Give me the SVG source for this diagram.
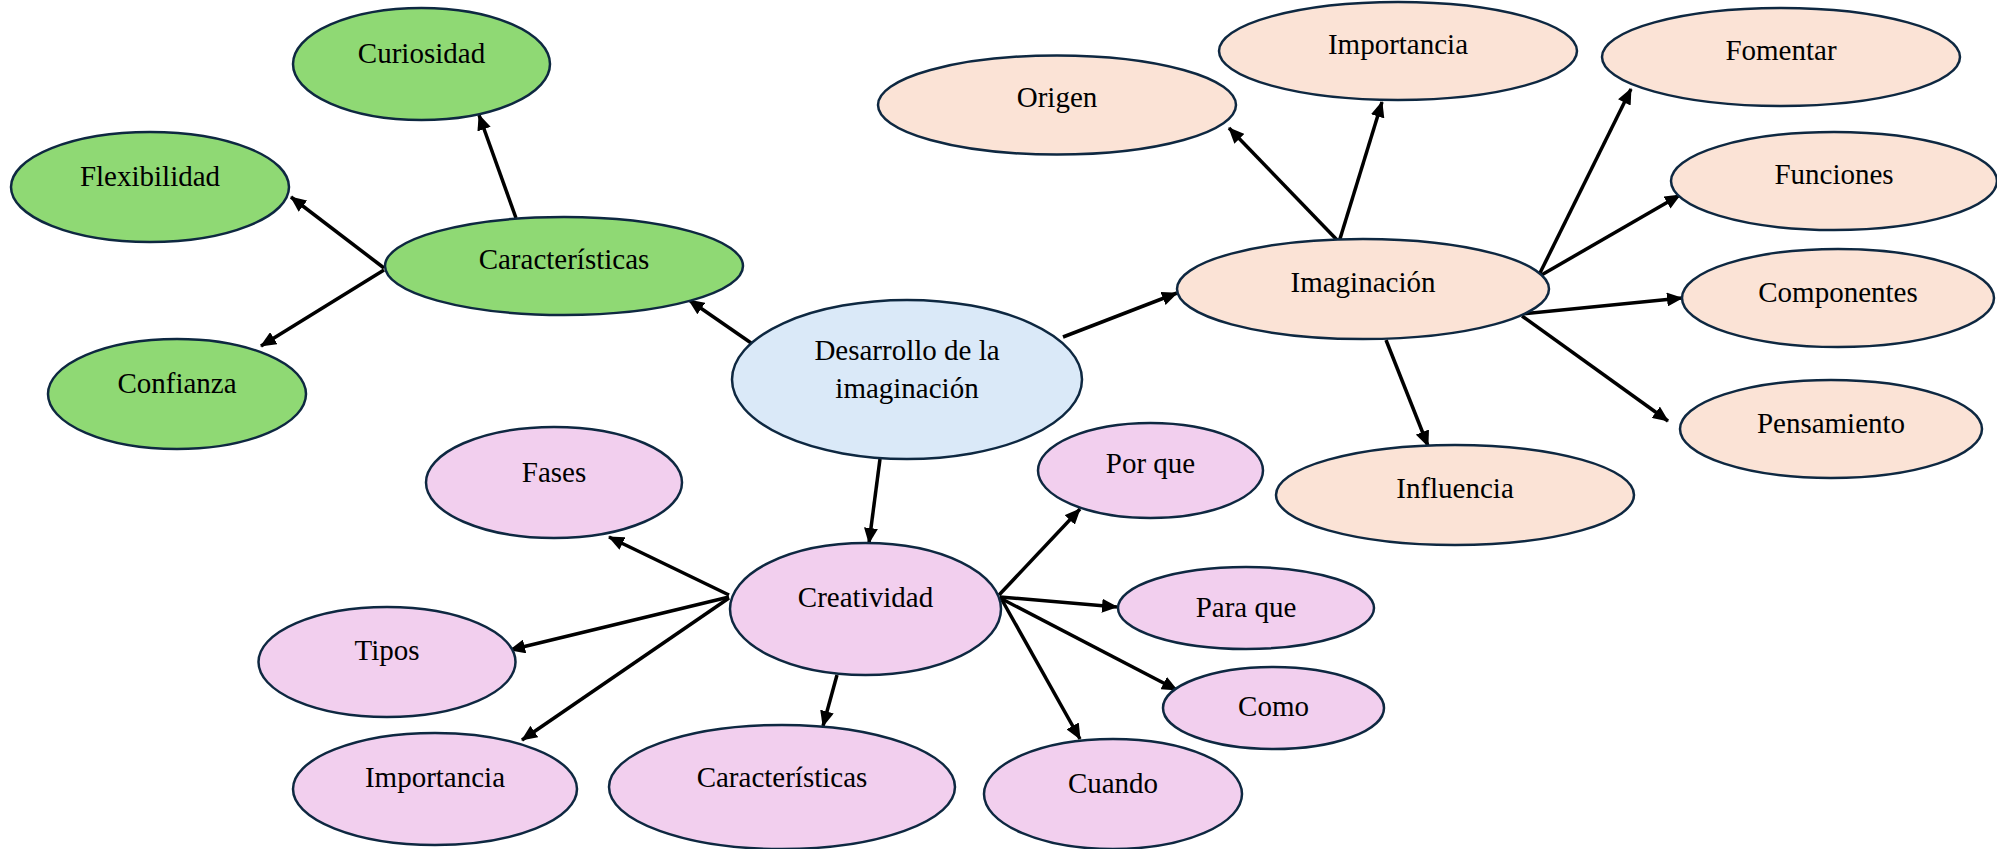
<svg xmlns="http://www.w3.org/2000/svg" width="1997" height="849" viewBox="0 0 1997 849">
<style>
.n{stroke:#0e2841;stroke-width:2.5}
.g{fill:#8fd974}.b{fill:#dae9f8}.p{fill:#fbe3d6}.k{fill:#f2cfee}
text{font-family:"Liberation Serif","Times New Roman",serif;font-size:29px;fill:#000;text-anchor:middle}
.c line{stroke:#000;stroke-width:3.5;marker-end:url(#ah)}
</style>
<defs>
<marker id="ah" markerUnits="userSpaceOnUse" markerWidth="16" markerHeight="14" refX="15" refY="7" orient="auto">
<path d="M0,0 L16,7 L0,14 z" fill="#000"/>
</marker>
</defs>
<rect width="1997" height="849" fill="#fff"/>
<g class="c">
<line x1="754" y1="345" x2="689" y2="300"/>
<line x1="516" y1="218" x2="479" y2="115"/>
<line x1="384" y1="268" x2="291" y2="197"/>
<line x1="384" y1="270" x2="261" y2="346"/>
<line x1="1063" y1="337" x2="1177" y2="293"/>
<line x1="1339" y1="242" x2="1229" y2="128"/>
<line x1="1339" y1="242" x2="1382" y2="102"/>
<line x1="1538" y1="277" x2="1631" y2="89"/>
<line x1="1538" y1="277" x2="1680" y2="195"/>
<line x1="1522" y1="314" x2="1682" y2="298"/>
<line x1="1522" y1="316" x2="1668" y2="421"/>
<line x1="1386" y1="340" x2="1428" y2="446"/>
<line x1="880" y1="459" x2="869" y2="543"/>
<line x1="729" y1="595" x2="609" y2="537"/>
<line x1="729" y1="597" x2="510" y2="650"/>
<line x1="729" y1="598" x2="522" y2="740"/>
<line x1="837" y1="675" x2="823" y2="726"/>
<line x1="999" y1="595" x2="1080" y2="509"/>
<line x1="1000" y1="597" x2="1117" y2="607"/>
<line x1="1000" y1="598" x2="1177" y2="690"/>
<line x1="1002" y1="600" x2="1080" y2="739"/>
</g>
<g id="central"><ellipse class="n b" cx="907" cy="379.5" rx="175" ry="79.5"/><text x="907" y="360">Desarrollo de la</text><text x="907" y="398">imaginación</text></g>
<g id="caracteristicas-g"><ellipse class="n g" cx="564" cy="266" rx="179" ry="49"/><text x="564" y="269">Características</text></g>
<g id="curiosidad"><ellipse class="n g" cx="421.5" cy="64" rx="128.5" ry="56"/><text x="421.5" y="63">Curiosidad</text></g>
<g id="flexibilidad"><ellipse class="n g" cx="150" cy="187" rx="139" ry="55"/><text x="150" y="186">Flexibilidad</text></g>
<g id="confianza"><ellipse class="n g" cx="177" cy="394" rx="129" ry="55"/><text x="177" y="393">Confianza</text></g>
<g id="imaginacion"><ellipse class="n p" cx="1363" cy="289" rx="186" ry="50"/><text x="1363" y="292">Imaginación</text></g>
<g id="origen"><ellipse class="n p" cx="1057" cy="105" rx="179" ry="49.5"/><text x="1057" y="107">Origen</text></g>
<g id="importancia-i"><ellipse class="n p" cx="1398" cy="51" rx="179" ry="49"/><text x="1398" y="54">Importancia</text></g>
<g id="fomentar"><ellipse class="n p" cx="1781" cy="57" rx="179" ry="49"/><text x="1781" y="60">Fomentar</text></g>
<g id="funciones"><ellipse class="n p" cx="1834" cy="181" rx="163" ry="49"/><text x="1834" y="184">Funciones</text></g>
<g id="componentes"><ellipse class="n p" cx="1838" cy="298" rx="156" ry="49"/><text x="1838" y="302">Componentes</text></g>
<g id="pensamiento"><ellipse class="n p" cx="1831" cy="429" rx="151" ry="49"/><text x="1831" y="433">Pensamiento</text></g>
<g id="influencia"><ellipse class="n p" cx="1455" cy="495" rx="179" ry="50"/><text x="1455" y="498">Influencia</text></g>
<g id="creatividad"><ellipse class="n k" cx="865.5" cy="609" rx="135.5" ry="66"/><text x="865.5" y="607">Creatividad</text></g>
<g id="fases"><ellipse class="n k" cx="554" cy="482.5" rx="128" ry="55.5"/><text x="554" y="482">Fases</text></g>
<g id="tipos"><ellipse class="n k" cx="387" cy="662" rx="128.5" ry="55"/><text x="387" y="660">Tipos</text></g>
<g id="importancia-c"><ellipse class="n k" cx="435" cy="789" rx="142" ry="56"/><text x="435" y="787">Importancia</text></g>
<g id="caracteristicas-c"><ellipse class="n k" cx="782" cy="787" rx="173" ry="62"/><text x="782" y="787">Características</text></g>
<g id="porque"><ellipse class="n k" cx="1150.5" cy="470.5" rx="112.5" ry="47.5"/><text x="1150.5" y="473">Por que</text></g>
<g id="paraque"><ellipse class="n k" cx="1246" cy="608" rx="128" ry="41"/><text x="1246" y="617">Para que</text></g>
<g id="como"><ellipse class="n k" cx="1273.5" cy="708" rx="110.5" ry="41"/><text x="1273.5" y="716">Como</text></g>
<g id="cuando"><ellipse class="n k" cx="1113" cy="794" rx="129" ry="55"/><text x="1113" y="793">Cuando</text></g>
</svg>
